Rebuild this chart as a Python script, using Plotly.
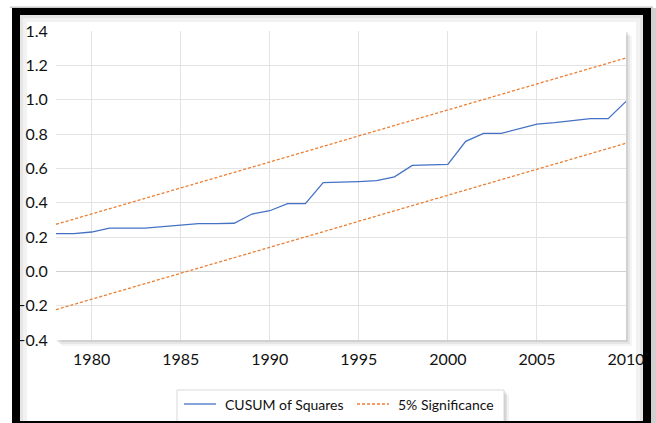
import plotly.graph_objects as go

# ---- data ----
years = [1978, 1979, 1980, 1981, 1982, 1983, 1984, 1985, 1986, 1987, 1988,
         1989, 1990, 1991, 1992, 1993, 1994, 1995, 1996, 1997, 1998, 1999,
         2000, 2001, 2002, 2003, 2004, 2005, 2006, 2007, 2008, 2009, 2010]
cusum_sq = [0.220, 0.220, 0.229, 0.252, 0.252, 0.252, 0.260, 0.270, 0.278, 0.278, 0.280,
            0.334, 0.353, 0.394, 0.394, 0.517, 0.519, 0.523, 0.528, 0.550, 0.617, 0.620,
            0.623, 0.757, 0.804, 0.804, 0.830, 0.858, 0.866, 0.878, 0.889, 0.889, 0.990]
sig_upper = [0.274, 0.304, 0.335, 0.365, 0.395, 0.425, 0.456, 0.486, 0.516, 0.546, 0.577,
             0.607, 0.637, 0.667, 0.698, 0.728, 0.758, 0.789, 0.819, 0.849, 0.879, 0.910,
             0.940, 0.970, 1.000, 1.031, 1.061, 1.091, 1.121, 1.152, 1.182, 1.212, 1.243]
sig_lower = [-0.223, -0.193, -0.162, -0.132, -0.102, -0.072, -0.041, -0.011, 0.019, 0.049, 0.080,
             0.110, 0.140, 0.170, 0.201, 0.231, 0.261, 0.292, 0.322, 0.352, 0.382, 0.413,
             0.443, 0.473, 0.503, 0.534, 0.564, 0.594, 0.624, 0.655, 0.685, 0.715, 0.746]
x_ticks = [1980, 1985, 1990, 1995, 2000, 2005, 2010]
y_ticks = [-0.4, -0.2, 0.0, 0.2, 0.4, 0.6, 0.8, 1.0, 1.2, 1.4]
legend_names = ["CUSUM of Squares", "5% Significance"]

# ---- layout geometry (pixels) ----
W, H = 656, 423
L, R, T, B = 56, 626, 31, 340
PW, PH = R - L, B - T


def px(x):
    return (x - L) / PW


def py(y):
    return (B - y) / PH


BLUE = "#4472C4"
ORANGE = "#ED7D31"
DASH = "3px,2px"
FONT = "Lato, 'Open Sans', sans-serif"

fig = go.Figure()
fig.add_trace(go.Scatter(x=years, y=cusum_sq, mode="lines", name=legend_names[0],
                         line=dict(color=BLUE, width=1.3), showlegend=False))
fig.add_trace(go.Scatter(x=years, y=sig_lower, mode="lines", name=legend_names[1],
                         line=dict(color=ORANGE, width=1.3, dash=DASH), showlegend=False))
fig.add_trace(go.Scatter(x=years, y=sig_upper, mode="lines", name=legend_names[1],
                         line=dict(color=ORANGE, width=1.3, dash=DASH), showlegend=False))

shapes = []
annotations = []
# plot-area drop shadow + white plot area
for off, a in [(6, 0.04), (4, 0.06), (2, 0.09)]:
    shapes.append(dict(type="rect", xref="paper", yref="paper", layer="below",
                       x0=px(L + off - 1), x1=px(R + off), y0=py(B + off), y1=py(T + off - 1),
                       fillcolor=f"rgba(0,0,0,{a})", line=dict(width=0)))
shapes.append(dict(type="rect", xref="paper", yref="paper", layer="below",
                   x0=0, x1=1, y0=0, y1=1, fillcolor="white", line=dict(width=0)))
# inner shadow of the black frame
for inset, a, w in [(9, 0.10, 4), (13, 0.05, 4)]:
    shapes.append(dict(type="rect", xref="paper", yref="paper", layer="below",
                       x0=px(12 + inset), x1=px(651 - inset), y0=py(440), y1=py(7 + inset),
                       fillcolor="rgba(0,0,0,0)", line=dict(color=f"rgba(0,0,0,{a})", width=w)))

# manual legend (box, shadow, samples, labels)
LX0, LX1, LY0, LY1 = 177, 504, 390, 430
for off, a in [(5, 0.05), (3, 0.07), (1.5, 0.09)]:
    shapes.append(dict(type="rect", xref="paper", yref="paper", layer="above",
                       x0=px(LX0 + off), x1=px(LX1 + off), y0=py(LY1), y1=py(LY0 + off),
                       fillcolor=f"rgba(0,0,0,{a})", line=dict(width=0)))
shapes.append(dict(type="rect", xref="paper", yref="paper", layer="above",
                   x0=px(LX0), x1=px(LX1), y0=py(LY1), y1=py(LY0),
                   fillcolor="white", line=dict(color="#d9d9d9", width=1)))
LEG_Y = 404
items = [(legend_names[0], BLUE, "solid", 184, 216, 223),
         (legend_names[1], ORANGE, DASH, 357, 389, 396)]
for name, col, dash, sx0, sx1, tx in items:
    shapes.append(dict(type="line", xref="paper", yref="paper", layer="above",
                       x0=px(sx0), x1=px(sx1), y0=py(LEG_Y), y1=py(LEG_Y),
                       line=dict(color=col, width=1.3, dash=dash)))
    annotations.append(dict(xref="paper", yref="paper", x=px(tx), y=py(LEG_Y),
                            xanchor="left", yanchor="middle", showarrow=False, text=name,
                            font=dict(family=FONT, size=14, color="#111111")))

# black frame
shapes.append(dict(type="rect", xref="paper", yref="paper", layer="above",
                   x0=px(16), x1=px(647), y0=py(425), y1=py(11),
                   fillcolor="rgba(0,0,0,0)", line=dict(color="black", width=8)))
# light gray strips outside the frame
shapes.append(dict(type="rect", xref="paper", yref="paper", layer="above",
                   x0=px(651), x1=px(660), y0=py(430), y1=py(8),
                   fillcolor="#d0d0d0", line=dict(width=0)))
shapes.append(dict(type="rect", xref="paper", yref="paper", layer="above",
                   x0=px(10), x1=px(653), y0=py(8), y1=py(6.5),
                   fillcolor="#c8c8c8", line=dict(width=0)))

fig.update_layout(
    width=W, height=H,
    margin=dict(l=L, r=W - R, t=T, b=H - B, pad=0),
    paper_bgcolor="white",
    plot_bgcolor="rgba(0,0,0,0)",
    font=dict(family=FONT, size=16, color="#111111"),
    shapes=shapes,
    annotations=annotations,
    showlegend=False,
    xaxis=dict(range=[1978, 2010], tickvals=x_ticks, ticktext=[str(v) for v in x_ticks],
               showgrid=True, gridcolor="#e3e3e3", gridwidth=1,
               zeroline=False, showline=False, ticks="outside", ticklen=5,
               tickcolor="rgba(0,0,0,0)", tickfont=dict(size=16)),
    yaxis=dict(range=[-0.4, 1.4], tickvals=y_ticks, tickformat=".1f",
               showgrid=True, gridcolor="#e3e3e3", gridwidth=1,
               zeroline=True, zerolinecolor="#d0d0d0", zerolinewidth=1,
               showline=False, ticks="outside", ticklen=4,
               tickcolor="rgba(0,0,0,0)", tickfont=dict(size=16)),
)

fig.write_html("out.html", config={"displayModeBar": False},
               post_script="document.body.style.margin='0';document.body.style.overflow='hidden';")
